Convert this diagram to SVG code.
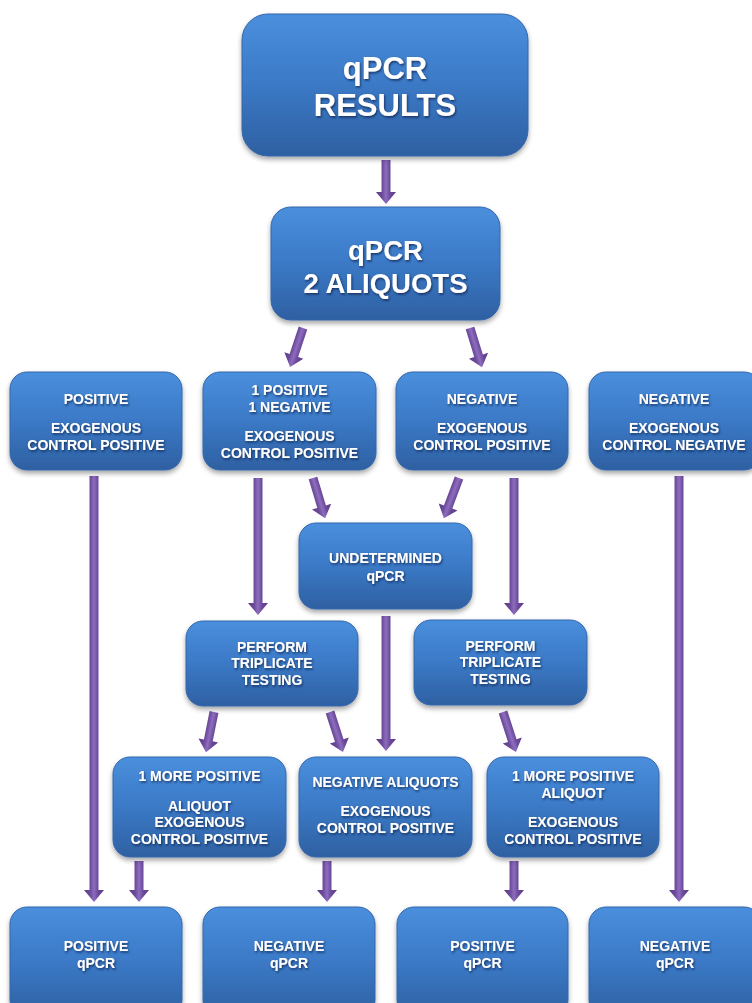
<svg xmlns="http://www.w3.org/2000/svg" width="752" height="1003" viewBox="0 0 752 1003">
<defs>
<linearGradient id="boxg" x1="0" y1="0" x2="0" y2="1">
<stop offset="0" stop-color="#4a8fdd"/>
<stop offset="0.5" stop-color="#3b79c6"/>
<stop offset="1" stop-color="#2e60a2"/>
</linearGradient>
<linearGradient id="arrg" x1="0" y1="0" x2="1" y2="0">
<stop offset="0" stop-color="#5a3a86"/>
<stop offset="0.3" stop-color="#6c4a9a"/>
<stop offset="0.5" stop-color="#8e6cbe"/>
<stop offset="0.7" stop-color="#6c4a9a"/>
<stop offset="1" stop-color="#5a3a86"/>
</linearGradient>
<filter id="sh" x="-10%" y="-10%" width="120%" height="130%">
<feDropShadow dx="0" dy="3" stdDeviation="2.5" flood-color="#000" flood-opacity="0.35"/>
</filter>
<filter id="tsh" x="-10%" y="-30%" width="120%" height="160%">
<feDropShadow dx="1" dy="1.5" stdDeviation="1" flood-color="#10204a" flood-opacity="0.8"/>
</filter>
</defs>
<style>
.box{fill:url(#boxg);stroke:#3466aa;stroke-width:1;filter:url(#sh)}
.t{font-family:"Liberation Sans",Arial,sans-serif;font-weight:bold;fill:#fff;text-anchor:middle;font-size:14px;filter:url(#tsh)}
.big{font-size:31px}
.mid{font-size:27.5px}
.arr{fill:url(#arrg)}
</style>
<rect width="752" height="1003" fill="#fff"/>

<g id="connectors">
<path class="arr" transform="translate(386,160)" d="M-4.5,0H4.5V32H10L0,44L-10,32H-4.5Z"/>
<path class="arr" transform="translate(303,328) rotate(18.4)" d="M-4.5,0H4.5V29H10L0,41L-10,29H-4.5Z"/>
<path class="arr" transform="translate(470,328) rotate(-17.1)" d="M-4.5,0H4.5V29H10L0,41L-10,29H-4.5Z"/>
<path class="arr" transform="translate(94,476)" d="M-4.5,0H4.5V414H10L0,426L-10,414H-4.5Z"/>
<path class="arr" transform="translate(258,478)" d="M-4.5,0H4.5V125H10L0,137L-10,125H-4.5Z"/>
<path class="arr" transform="translate(313,478) rotate(-16.7)" d="M-4.5,0H4.5V30H10L0,42L-10,30H-4.5Z"/>
<path class="arr" transform="translate(459,478) rotate(20.6)" d="M-4.5,0H4.5V31H10L0,43L-10,31H-4.5Z"/>
<path class="arr" transform="translate(514,478)" d="M-4.5,0H4.5V125H10L0,137L-10,125H-4.5Z"/>
<path class="arr" transform="translate(386,616)" d="M-4.5,0H4.5V123H10L0,135L-10,123H-4.5Z"/>
<path class="arr" transform="translate(214,712) rotate(11.3)" d="M-4.5,0H4.5V29H10L0,41L-10,29H-4.5Z"/>
<path class="arr" transform="translate(330,712) rotate(-18)" d="M-4.5,0H4.5V30H10L0,42L-10,30H-4.5Z"/>
<path class="arr" transform="translate(503,712) rotate(-18)" d="M-4.5,0H4.5V30H10L0,42L-10,30H-4.5Z"/>
<path class="arr" transform="translate(139,861)" d="M-4.5,0H4.5V29H10L0,41L-10,29H-4.5Z"/>
<path class="arr" transform="translate(327,861)" d="M-4.5,0H4.5V29H10L0,41L-10,29H-4.5Z"/>
<path class="arr" transform="translate(514,861)" d="M-4.5,0H4.5V29H10L0,41L-10,29H-4.5Z"/>
<path class="arr" transform="translate(679,476)" d="M-4.5,0H4.5V414H10L0,426L-10,414H-4.5Z"/>
</g>

<g id="n-results">
<rect class="box" x="242" y="14" width="286" height="142" rx="26"/>
<text class="t big" x="385" y="79">qPCR</text>
<text class="t big" x="385" y="116">RESULTS</text>
</g>
<g id="n-aliquots">
<rect class="box" x="271" y="207" width="229" height="113" rx="20"/>
<text class="t mid" x="385.5" y="260">qPCR</text>
<text class="t mid" x="385.5" y="293">2 ALIQUOTS</text>
</g>

<g id="n-positive">
<rect class="box" x="10" y="372" width="172" height="98" rx="17"/>
<text class="t" x="96" y="404">POSITIVE</text>
<text class="t" x="96" y="433">EXOGENOUS</text>
<text class="t" x="96" y="450">CONTROL POSITIVE</text>
</g>
<g id="n-mixed">
<rect class="box" x="203" y="372" width="173" height="98" rx="17"/>
<text class="t" x="289.5" y="395">1 POSITIVE</text>
<text class="t" x="289.5" y="412">1 NEGATIVE</text>
<text class="t" x="289.5" y="441">EXOGENOUS</text>
<text class="t" x="289.5" y="458">CONTROL POSITIVE</text>
</g>
<g id="n-negative">
<rect class="box" x="396" y="372" width="172" height="98" rx="17"/>
<text class="t" x="482" y="404">NEGATIVE</text>
<text class="t" x="482" y="433">EXOGENOUS</text>
<text class="t" x="482" y="450">CONTROL POSITIVE</text>
</g>
<g id="n-negative-neg">
<rect class="box" x="589" y="372" width="172" height="98" rx="17"/>
<text class="t" x="674" y="404">NEGATIVE</text>
<text class="t" x="674" y="433">EXOGENOUS</text>
<text class="t" x="674" y="450">CONTROL NEGATIVE</text>
</g>

<g id="n-undetermined">
<rect class="box" x="299" y="523" width="173" height="86" rx="17"/>
<text class="t" x="385.5" y="563">UNDETERMINED</text>
<text class="t" x="385.5" y="581">qPCR</text>
</g>

<g id="n-triplicate-left">
<rect class="box" x="186" y="621" width="172" height="85" rx="17"/>
<text class="t" x="272" y="652">PERFORM</text>
<text class="t" x="272" y="668">TRIPLICATE</text>
<text class="t" x="272" y="685">TESTING</text>
</g>
<g id="n-triplicate-right">
<rect class="box" x="414" y="620" width="173" height="85" rx="17"/>
<text class="t" x="500.5" y="651">PERFORM</text>
<text class="t" x="500.5" y="667">TRIPLICATE</text>
<text class="t" x="500.5" y="684">TESTING</text>
</g>

<g id="n-more-pos-left">
<rect class="box" x="113" y="757" width="173" height="100" rx="17"/>
<text class="t" x="199.5" y="781">1 MORE POSITIVE</text>
<text class="t" x="199.5" y="811">ALIQUOT</text>
<text class="t" x="199.5" y="827">EXOGENOUS</text>
<text class="t" x="199.5" y="844">CONTROL POSITIVE</text>
</g>
<g id="n-neg-aliquots">
<rect class="box" x="299" y="757" width="173" height="100" rx="17"/>
<text class="t" x="385.5" y="787">NEGATIVE ALIQUOTS</text>
<text class="t" x="385.5" y="816">EXOGENOUS</text>
<text class="t" x="385.5" y="833">CONTROL POSITIVE</text>
</g>
<g id="n-more-pos-right">
<rect class="box" x="487" y="757" width="172" height="100" rx="17"/>
<text class="t" x="573" y="781">1 MORE POSITIVE</text>
<text class="t" x="573" y="798">ALIQUOT</text>
<text class="t" x="573" y="827">EXOGENOUS</text>
<text class="t" x="573" y="844">CONTROL POSITIVE</text>
</g>

<g id="n-result-pos1">
<rect class="box" x="10" y="907" width="172" height="110" rx="17"/>
<text class="t" x="96" y="951">POSITIVE</text>
<text class="t" x="96" y="968">qPCR</text>
</g>
<g id="n-result-neg1">
<rect class="box" x="203" y="907" width="172" height="110" rx="17"/>
<text class="t" x="289" y="951">NEGATIVE</text>
<text class="t" x="289" y="968">qPCR</text>
</g>
<g id="n-result-pos2">
<rect class="box" x="397" y="907" width="171" height="110" rx="17"/>
<text class="t" x="482.5" y="951">POSITIVE</text>
<text class="t" x="482.5" y="968">qPCR</text>
</g>
<g id="n-result-neg2">
<rect class="box" x="589" y="907" width="172" height="110" rx="17"/>
<text class="t" x="675" y="951">NEGATIVE</text>
<text class="t" x="675" y="968">qPCR</text>
</g>
</svg>
